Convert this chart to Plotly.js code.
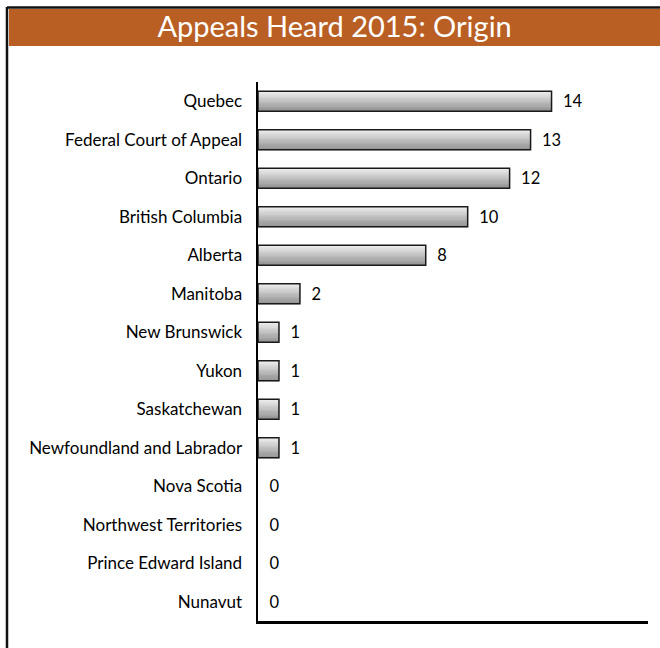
<!DOCTYPE html>
<html>
<head>
<meta charset="utf-8">
<script src="https://cdn.plot.ly/plotly-3.0.1.min.js"></script>
<style>
html,body{margin:0;padding:0;background:#fff;}
#chart{width:660px;height:648px;}
</style>
</head>
<body>
<div id="chart"></div>
<script>
const categories = ["Quebec","Federal Court of Appeal","Ontario","British Columbia","Alberta","Manitoba","New Brunswick","Yukon","Saskatchewan","Newfoundland and Labrador","Nova Scotia","Northwest Territories","Prince Edward Island","Nunavut"];
const appeals = [14,13,12,10,8,2,1,1,1,1,0,0,0,0];
const chartTitle = "Appeals Heard 2015: Origin";

const BAR_W = 0.52;
const N = 24;
const traces = [];
// gradient stripes (light top -> dark bottom)
for (let i = 0; i < N; i++) {
  const t = i / (N - 1);
  const c = Math.round(238 - t * (238 - 145));
  traces.push({
    type: 'bar', orientation: 'h',
    y: categories, x: appeals,
    width: BAR_W / N * 1.6,
    offset: -BAR_W / 2 + i * BAR_W / N,
    marker: {color: `rgb(${c},${c},${c})`, line: {width: 0}},
    hoverinfo: 'skip', showlegend: false
  });
}
// outline + labels
traces.push({
  type: 'bar', orientation: 'h',
  y: categories, x: appeals,
  width: BAR_W,
  marker: {color: 'rgba(0,0,0,0)', line: {color: '#1a1a1a', width: appeals.map(v => v > 0 ? 1.5 : 0)}},
  text: appeals.map(v => '\u00a0\u00a0' + v),
  textposition: 'outside',
  constraintext: 'none',
  cliponaxis: false,
  textfont: {family: 'Lato, sans-serif', size: 16.5, color: '#000'},
  showlegend: false
});

const layout = {
  width: 660, height: 648,
  margin: {l: 258, r: 12, t: 82, b: 27},
  paper_bgcolor: '#fff', plot_bgcolor: '#fff',
  barmode: 'overlay',
  showlegend: false,
  uniformtext: {minsize: 16, mode: 'show'},
  title: {
    text: chartTitle,
    font: {family: 'Lato, sans-serif', size: 29, color: '#fff'},
    x: 0.507, xanchor: 'center', y: 1 - 27/648, yanchor: 'middle', yref: 'container'
  },
  xaxis: {
    range: [0, 18.6], showgrid: false, zeroline: false,
    showticklabels: false, ticks: '',
    showline: true, linecolor: '#000', linewidth: 2.5, fixedrange: true
  },
  yaxis: {
    type: 'category', categoryorder: 'array', categoryarray: categories,
    autorange: 'reversed', range: [13.5, -0.5],
    showgrid: false, zeroline: false,
    showline: true, linecolor: '#000', linewidth: 2.5,
    ticks: 'outside', ticklen: 10, tickcolor: 'rgba(0,0,0,0)',
    tickfont: {family: 'Lato, sans-serif', size: 17, color: '#000'},
    fixedrange: true
  },
  shapes: [
    {type: 'rect', xref: 'paper', yref: 'paper',
     x0: (9-258)/390, x1: (660-258)/390, y0: 1 + (82-46)/539, y1: 1 + (82-9)/539,
     fillcolor: '#B95F24', line: {width: 0}, layer: 'below'},
    {type: 'line', xref: 'paper', yref: 'paper',
     x0: (7-258)/390, x1: (660-258)/390, y0: 1 + (82-7.5)/539, y1: 1 + (82-7.5)/539,
     line: {color: '#111', width: 2.5}},
    {type: 'line', xref: 'paper', yref: 'paper',
     x0: (7-258)/390, x1: (7-258)/390, y0: 1 + (82-7)/539, y1: 1 - (648-82)/539,
     line: {color: '#111', width: 2.5}}
  ]
};

Plotly.newPlot('chart', traces, layout, {displayModeBar: false, staticPlot: true});
</script>
</body>
</html>
